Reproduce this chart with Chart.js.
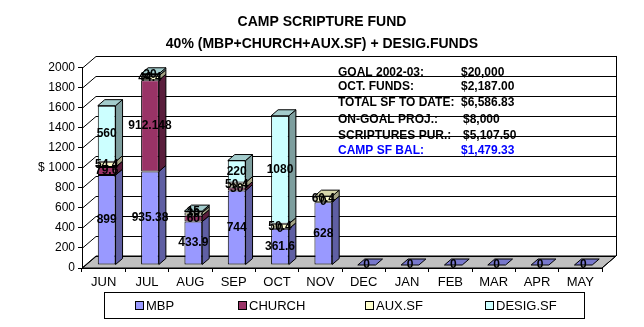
<!DOCTYPE html>
<html>
<head>
<meta charset="utf-8">
<title>Camp Scripture Fund</title>
<script src="https://cdn.jsdelivr.net/npm/chart.js@4.4.0/dist/chart.umd.min.js"></script>
<style>
  html, body { margin: 0; padding: 0; background: #fff; }
  #chart { display: block; }
</style>
</head>
<body>
<canvas id="chart" width="644" height="327"></canvas>
<script>
// Monthly contributions, stacked per fund source
const months = ['JUN', 'JUL', 'AUG', 'SEP', 'OCT', 'NOV', 'DEC', 'JAN', 'FEB', 'MAR', 'APR', 'MAY'];
const mbp = [899, 935.38, 433.9, 744, 361.6, 628, 0, 0, 0, 0, 0, 0];
const church = [79.6, 912.148, 60, 30, 0, 0, null, null, null, null, null, null];
const auxSf = [54.4, 44.4, 30, 50.4, 50.4, 60.4, null, null, null, null, null, null];
const desigSf = [560, 20, 15, 220, 1080, null, null, null, null, null, null, null];

const yMax = 2000;
const yStep = 200;

// Summary box
const summaryLabels = ['GOAL 2002-03:', 'OCT. FUNDS:', 'TOTAL SF TO DATE:', 'ON-GOAL PROJ.:', 'SCRIPTURES PUR.:', 'CAMP SF BAL:'];
const summaryValues = ['$20,000', '$2,187.00', '$6,586.83', '$8,000', '$5,107.50', '$1,479.33'];

const FONT = "'Liberation Sans', Arial, sans-serif";

// 3D look: wall depth and bar depth in px
const WALL_DX = 14, WALL_DY = 12;
const BAR_DX = 7, BAR_DY = 6;
const BAR_SHIFT_X = 3, BAR_SHIFT_Y = -3;

const faceStyles = [
    { front: '#9999ff', side: '#5f5fa3', top: '#7878cc' },
    { front: '#993366', side: '#5a1e3c', top: '#7a2a52' },
    { front: '#ffffcc', side: '#a3a385', top: '#d6d6aa' },
    { front: '#ccffff', side: '#7d9e9e', top: '#a3cccc' }
];

function poly(ctx, pts, fill) {
    ctx.beginPath();
    ctx.moveTo(pts[0][0], pts[0][1]);
    for (let i = 1; i < pts.length; i++) ctx.lineTo(pts[i][0], pts[i][1]);
    ctx.closePath();
    if (fill) {
        ctx.fillStyle = fill;
        ctx.fill();
    }
    ctx.stroke();
}

// Walls, floor, back grid lines and the summary text
const backdrop = {
    id: 'backdrop',
    beforeDraw(chart) {
        const { ctx, chartArea: a, scales: { y } } = chart;
        ctx.save();
        ctx.fillStyle = '#fff';
        ctx.fillRect(0, 0, chart.width, chart.height);

        ctx.lineWidth = 1;
        ctx.strokeStyle = '#000';

        // floor
        poly(ctx, [[a.left, a.bottom], [a.right, a.bottom],
            [a.right + WALL_DX, a.bottom - WALL_DY], [a.left + WALL_DX, a.bottom - WALL_DY]], '#c0c0c0');

        // summary text sits under the grid lines
        ctx.font = 'bold 12px ' + FONT;
        ctx.textBaseline = 'middle';
        ctx.textAlign = 'left';
        const rowY = [72.5, 87, 103, 119.5, 136, 151];
        summaryLabels.forEach((label, i) => {
            ctx.fillStyle = i === summaryLabels.length - 1 ? '#0000ff' : '#000';
            ctx.fillText(label, 338, rowY[i]);
            ctx.fillText(summaryValues[i], i === 3 || i === 4 ? 463 : 461, rowY[i]);
        });

        // back wall grid + side wall diagonals
        ctx.strokeStyle = '#000';
        ctx.beginPath();
        for (let v = 0; v <= yMax; v += yStep) {
            const py = Math.round(y.getPixelForValue(v)) + 0.5;
            ctx.moveTo(a.left, py);
            ctx.lineTo(a.left + WALL_DX, py - WALL_DY);
            ctx.lineTo(a.right + WALL_DX, py - WALL_DY);
        }
        const rx = Math.round(a.right + WALL_DX) + 0.5;
        ctx.moveTo(rx, a.top - WALL_DY);
        ctx.lineTo(rx, a.bottom - WALL_DY);
        ctx.moveTo(a.right, a.bottom);
        ctx.lineTo(a.right + WALL_DX, a.bottom - WALL_DY);
        ctx.stroke();

        // axis unit
        ctx.fillStyle = '#000';
        ctx.font = '12px ' + FONT;
        ctx.textAlign = 'left';
        ctx.fillText('$', 38, y.getPixelForValue(1000));
        ctx.restore();
    },
    afterDraw(chart) {
        // legend box
        const { ctx } = chart;
        ctx.save();
        ctx.strokeStyle = '#000';
        ctx.lineWidth = 1;
        ctx.strokeRect(104.5, 292.5, 480, 26);
        ctx.font = '13px ' + FONT;
        ctx.textBaseline = 'middle';
        ctx.textAlign = 'left';
        const itemX = [135, 238, 365, 485];
        chart.data.datasets.forEach((ds, i) => {
            ctx.fillStyle = ds.backgroundColor;
            ctx.fillRect(itemX[i] + 0.5, 301.5, 8, 8);
            ctx.strokeRect(itemX[i] + 0.5, 301.5, 8, 8);
            ctx.fillStyle = '#000';
            ctx.fillText(ds.label, itemX[i] + 11, 306);
        });
        ctx.restore();
    }
};

// Side and top faces of the columns, plus value labels
const depth = {
    id: 'depth',
    beforeDatasetsDraw(chart) {
        chart.ctx.save();
        chart.ctx.translate(BAR_SHIFT_X, BAR_SHIFT_Y);
    },
    afterDatasetsDraw(chart) {
        const { ctx } = chart;
        const sets = chart.data.datasets;
        ctx.lineWidth = 1;
        ctx.strokeStyle = '#000';

        // side faces
        sets.forEach((ds, d) => {
            chart.getDatasetMeta(d).data.forEach((el, i) => {
                const v = ds.data[i];
                if (v === null || v === 0) return;
                const xr = el.x + el.width / 2;
                poly(ctx, [[xr, el.y], [xr + BAR_DX, el.y - BAR_DY],
                    [xr + BAR_DX, el.base - BAR_DY], [xr, el.base]], faceStyles[d].side);
            });
        });

        // top face on the highest segment of each column
        months.forEach((m, i) => {
            let top = 0;
            for (let d = sets.length - 1; d >= 0; d--) {
                if (sets[d].data[i] > 0) { top = d; break; }
            }
            const el = chart.getDatasetMeta(top).data[i];
            const xl = el.x - el.width / 2, xr = el.x + el.width / 2;
            poly(ctx, [[xl, el.y], [xl + BAR_DX, el.y - BAR_DY],
                [xr + BAR_DX, el.y - BAR_DY], [xr, el.y]], faceStyles[top].top);
        });

        // value labels
        ctx.font = 'bold 12px ' + FONT;
        ctx.fillStyle = '#000';
        ctx.textAlign = 'center';
        ctx.textBaseline = 'middle';
        sets.forEach((ds, d) => {
            chart.getDatasetMeta(d).data.forEach((el, i) => {
                const v = ds.data[i];
                if (v === null) return;
                ctx.fillText(String(v), el.x, (el.y + el.base) / 2);
            });
        });
        ctx.restore();
    }
};

const series = [['MBP', mbp], ['CHURCH', church], ['AUX.SF', auxSf], ['DESIG.SF', desigSf]];

new Chart(document.getElementById('chart'), {
    type: 'bar',
    data: {
        labels: months,
        datasets: series.map(([label, data], d) => ({
            label: label,
            data: data,
            backgroundColor: faceStyles[d].front,
            borderColor: '#000',
            borderWidth: 1,
            borderSkipped: false,
            barPercentage: 0.41,
            categoryPercentage: 1,
            clip: false
        }))
    },
    options: {
        responsive: false,
        animation: false,
        events: [],
        layout: {
            padding: { left: 0, right: 0, top: 0, bottom: 39 }
        },
        plugins: {
            legend: { display: false },
            tooltip: { enabled: false },
            title: {
                display: true,
                text: ['CAMP SCRIPTURE FUND', '40% (MBP+CHURCH+AUX.SF) + DESIG.FUNDS'],
                color: '#000',
                font: { family: FONT, size: 14, weight: 'bold', lineHeight: 1.57 },
                padding: { top: 11, bottom: 13 }
            }
        },
        scales: {
            x: {
                stacked: true,
                grid: { offset: true, drawOnChartArea: false, tickLength: 4, color: '#000' },
                border: { color: '#000' },
                ticks: { color: '#000', font: { family: FONT, size: 13 }, padding: 3 },
                afterFit(scale) { scale.height = 20; }
            },
            y: {
                stacked: true,
                min: 0,
                max: yMax,
                grid: { drawOnChartArea: false, tickLength: 4, color: '#000' },
                border: { color: '#000' },
                ticks: {
                    stepSize: yStep,
                    color: '#000',
                    font: { family: FONT, size: 12 },
                    padding: 3,
                    callback: (value) => String(value)
                },
                afterFit(scale) { scale.width = 82; }
            },
            // empty strip on the right that leaves room for the wall depth
            gutter: {
                type: 'linear',
                position: 'right',
                display: true,
                grid: { display: false },
                border: { display: false },
                ticks: { display: false },
                afterFit(scale) { scale.width = 42; }
            }
        }
    },
    plugins: [backdrop, depth]
});
</script>
</body>
</html>
